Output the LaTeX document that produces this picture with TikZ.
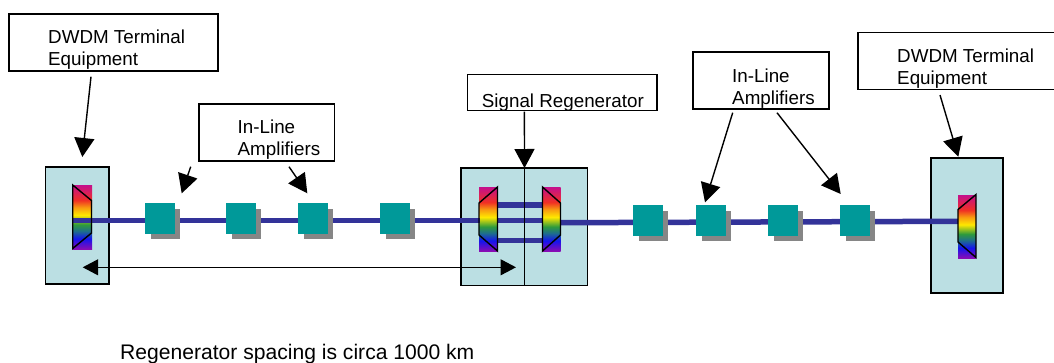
\documentclass[tikz,border=0pt]{standalone}
\usepackage{fontspec}
\setmainfont{Liberation Sans}
\usetikzlibrary{arrows.meta}
\definecolor{rbviolet}{HTML}{8A0CB4}
\definecolor{rbblue}{HTML}{1414EE}
\definecolor{rbteal}{HTML}{1E6E8C}
\definecolor{rbgreen}{HTML}{2E9A3C}
\definecolor{rbyellow}{HTML}{FFE800}
\definecolor{rborange}{HTML}{F89A10}
\definecolor{rbred}{HTML}{F03024}
\definecolor{rbmag}{HTML}{C4108C}
\pgfdeclareverticalshading{rainbow}{100bp}{
 color(0bp)=(rbviolet);
 color(25bp)=(rbviolet);
 color(33bp)=(rbblue);
 color(39bp)=(rbteal);
 color(44bp)=(rbgreen);
 color(51.5bp)=(rbyellow);
 color(57.5bp)=(rborange);
 color(63bp)=(rbred);
 color(75bp)=(rbmag);
 color(100bp)=(rbmag)}
\definecolor{termfill}{HTML}{BBDFE3}
\definecolor{ampfill}{HTML}{009999}
\definecolor{fibre}{HTML}{333399}
\definecolor{shadowc}{HTML}{868686}
\tikzset{
 x=1pt,y=-1pt,
 termbox/.style={draw=black,line width=1.6pt,fill=termfill,inner sep=0pt,outer sep=0pt},
 callout/.style={draw=black,line width=1.2pt,fill=white,inner sep=0pt,outer sep=0pt},
 calltext/.style={font=\fontsize{18.8}{22.4}\selectfont,align=left,anchor=north west,inner sep=0pt},
 notetext/.style={font=\fontsize{21.1}{24}\selectfont,align=left,anchor=north west,inner sep=0pt},
 fibreline/.style={draw=fibre,line width=5.5pt},
 pointer/.style={draw=black,line width=1.4pt,-{Triangle[length=19pt,width=20pt]}},
 span/.style={draw=black,line width=1.3pt,{Triangle[length=15.5pt,width=16pt]}-{Triangle[length=15.5pt,width=16pt]}},
 prismline/.style={draw=black,line width=1.4pt,line join=miter},
 ampbox/.style={fill=ampfill,minimum width=29.5pt,minimum height=30.5pt,inner sep=0pt,outer sep=0pt},
 ampshadow/.style={fill=shadowc,minimum width=29.5pt,minimum height=30.5pt,inner sep=0pt,outer sep=0pt},
}
\newcommand{\ampat}[3]{%
 \node[ampshadow] (#1s) at (#2+5.5,#3+5.5) {};
 \node[ampbox] (#1) at (#2,#3) {};}
\begin{document}
\begin{tikzpicture}
\useasboundingbox (0,0) rectangle (1054,362);
% terminal boxes
\path[termbox] (45.5,167) rectangle (109,284);
\path[termbox,line width=1.2pt] (461,168) rectangle (587.5,285.5);
\path[termbox] (931,158) rectangle (1003,293);
\coordinate (regtop) at (524.5,168);
\coordinate (regbot) at (524.5,285.5);
% rainbow strips
\shade[shading=rainbow] (72.5,185) rectangle (92,249);
\shade[shading=rainbow] (479,187) rectangle (497.5,251);
\shade[shading=rainbow] (542.5,187) rectangle (560.5,251);
\shade[shading=rainbow] (958,195) rectangle (976,258);
% fibres
\coordinate (w1) at (73,220.7);
\coordinate (w2) at (480,220.7);
\coordinate (w3) at (560,222.7);
\coordinate (w4) at (958,221.3);
\draw[fibreline] (w1) -- (w2);
\draw[fibreline] (w3) -- (w4);
\draw[fibreline] (497,205) -- (542,205);
\draw[fibreline] (497,220.7) -- (542,220.7);
\draw[fibreline] (497,240.7) -- (542,240.7);
% prisms
\draw[prismline] (72.7,185) -- (91.5,200.5) -- (91.5,233) -- (72.7,248.5) -- cycle;
\draw[prismline] (497.5,187) -- (479,203) -- (479,235) -- (497.5,251) -- cycle;
\draw[prismline] (542.5,187) -- (560.5,203) -- (560.5,235) -- (542.5,251) -- cycle;
\draw[prismline] (976,194.5) -- (958,209.5) -- (958,242) -- (976,257.5) -- cycle;
\draw[black,line width=1.1pt] (regtop) -- (regbot);
% amplifiers
\ampat{a1}{160}{218.5}
\ampat{a2}{241}{218.5}
\ampat{a3}{313}{218.5}
\ampat{a4}{395}{218.5}
\ampat{a5}{648}{220.5}
\ampat{a6}{711}{220.5}
\ampat{a7}{783}{220.5}
\ampat{a8}{855}{220.5}
% callouts
\node[callout,minimum width=209pt,minimum height=57pt] (c1) at (113.5,42.5) {};
\node[calltext] (t1) at (48,29.3) {DWDM Terminal\\Equipment};
\node[callout,minimum width=135.5pt,minimum height=57pt] (c2) at (266.8,132.5) {};
\node[calltext] (t2) at (237.5,119.3) {In-Line\\Amplifiers};
\node[callout,minimum width=189.3pt,minimum height=36pt] (c3) at (562.4,92.7) {};
\node[calltext] (t3) at (481.7,93.6) {Signal Regenerator};
\node[callout,minimum width=136pt,minimum height=57pt] (c4) at (761,80.5) {};
\node[calltext] (t4) at (732,68.3) {In-Line\\Amplifiers};
\node[callout,minimum width=199pt,minimum height=57pt] (c5) at (957.5,60.7) {};
\node[calltext] (t5) at (897,48.3) {DWDM Terminal\\Equipment};
\node[notetext] (t6) at (120,343.7) {Regenerator spacing is circa 1000 km};
% pointers
\coordinate (p1a) at (91,76.7); \coordinate (p1b) at (82.3,157);
\coordinate (p2a) at (190.7,166.7); \coordinate (p2b) at (181.7,193.3);
\coordinate (p3a) at (289,166.7); \coordinate (p3b) at (307.3,193.3);
\coordinate (p4a) at (732.7,112.7); \coordinate (p4b) at (705,202.3);
\coordinate (p5a) at (777,112.7); \coordinate (p5b) at (840.7,194);
\coordinate (p6a) at (940,95); \coordinate (p6b) at (958.3,156.7);
\coordinate (p7a) at (524.4,111.7);
\draw[pointer] (p1a) -- (p1b);
\draw[pointer] (p2a) -- (p2b);
\draw[pointer] (p3a) -- (p3b);
\draw[pointer] (p4a) -- (p4b);
\draw[pointer] (p5a) -- (p5b);
\draw[pointer] (p6a) -- (p6b);
\draw[pointer] (p7a) -- (regtop);
\coordinate (s1) at (82.7,267.3); \coordinate (s2) at (516,267.3);
\draw[span] (s1) -- (s2);
\end{tikzpicture}
\end{document}
